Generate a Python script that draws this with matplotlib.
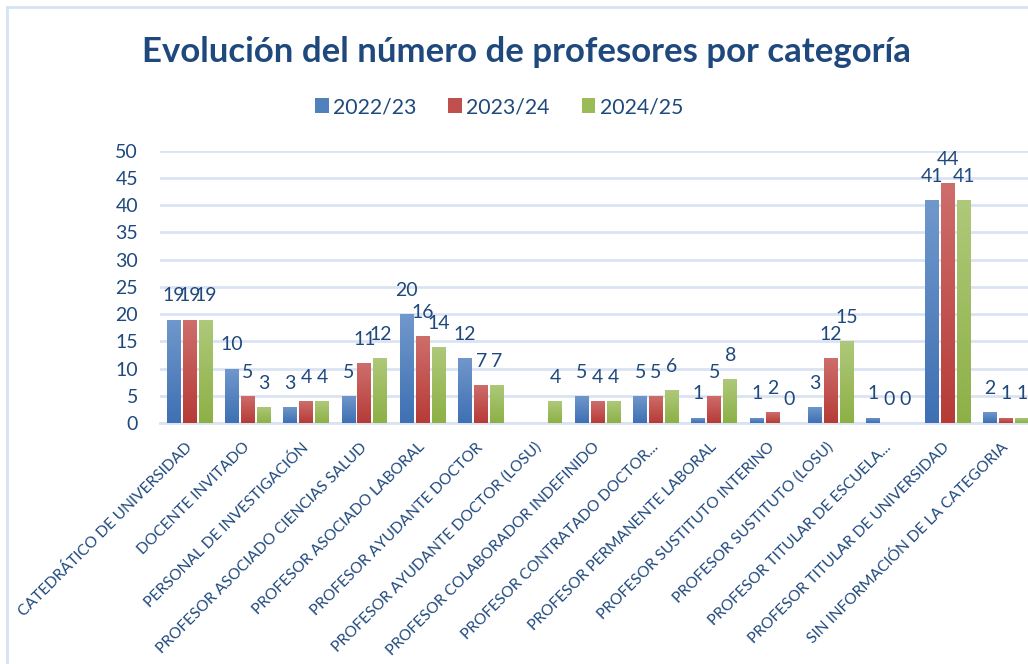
import numpy as np
import matplotlib
matplotlib.use("Agg")
import matplotlib.pyplot as plt
from matplotlib.colors import LinearSegmentedColormap
from matplotlib.lines import Line2D

# datos
categorias = [
    "CATEDRÁTICO DE UNIVERSIDAD",
    "DOCENTE INVITADO",
    "PERSONAL DE INVESTIGACIÓN",
    "PROFESOR ASOCIADO CIENCIAS SALUD",
    "PROFESOR ASOCIADO LABORAL",
    "PROFESOR AYUDANTE DOCTOR",
    "PROFESOR AYUDANTE DOCTOR (LOSU)",
    "PROFESOR COLABORADOR INDEFINIDO",
    "PROFESOR CONTRATADO DOCTOR...",
    "PROFESOR PERMANENTE LABORAL",
    "PROFESOR SUSTITUTO INTERINO",
    "PROFESOR SUSTITUTO (LOSU)",
    "PROFESOR TITULAR DE ESCUELA...",
    "PROFESOR TITULAR DE UNIVERSIDAD",
    "SIN INFORMACIÓN DE LA CATEGORIA",
]
cursos = ["2022/23", "2023/24", "2024/25"]
v_2022 = [19, 10, 3, 5, 20, 12, None, 5, 5, 1, 1, 3, 1, 41, 2]
v_2023 = [19, 5, 4, 11, 16, 7, None, 4, 5, 5, 2, 12, 0, 44, 1]
v_2024 = [19, 3, 4, 12, 14, 7, 4, 4, 6, 8, 0, 15, 0, 41, 1]

texto = "#1F497D"
rejilla = "#D9E3F1"
colores = ["#4F81BD", "#C0504D", "#9BBB59"]
degradados = [("#7198CC", "#3E70B3"), ("#CE6E6C", "#B63B37"), ("#AEC97A", "#8DB046")]

plt.rcParams["font.family"] = ["Lato", "DejaVu Sans"]

fig = plt.figure(figsize=(10.28, 6.64), dpi=100)
ax = fig.add_axes([0.156, 0.363, 0.851, 0.410])

x = np.arange(len(categorias))
ancho = 0.24
paso = 0.274
grad = np.linspace(0, 1, 256).reshape(-1, 1)

for i, (serie, nombre) in enumerate(zip([v_2022, v_2023, v_2024], cursos)):
    vals = np.array([np.nan if v is None else v for v in serie], dtype=float)
    barras = ax.bar(x + (i - 1) * paso, np.nan_to_num(vals), ancho, color=colores[i],
                    label=nombre, zorder=2, linewidth=0)
    cmap = LinearSegmentedColormap.from_list("g%d" % i, degradados[i])
    for b, v in zip(barras, vals):
        if np.isnan(v):
            continue
        bx, by = b.get_xy()
        if v > 0:
            im = ax.imshow(grad, extent=[bx, bx + b.get_width(), by, by + v], origin="upper",
                           cmap=cmap, aspect="auto", zorder=3, interpolation="bilinear")
            im.set_clip_path(b)
        ax.annotate("%d" % v, (bx + b.get_width() / 2, v), xytext=(0, 13),
                    textcoords="offset points", ha="center", va="baseline",
                    fontsize=14, color=texto, zorder=4)

ax.set_xlim(-0.5, len(categorias) - 0.5)
ax.set_ylim(0, 50)
ax.set_yticks(range(0, 51, 5))
ax.grid(axis="y", color=rejilla, linewidth=2, zorder=0)
ax.set_axisbelow(True)
for s in ["top", "right", "left"]:
    ax.spines[s].set_visible(False)
ax.spines["bottom"].set_color(rejilla)
ax.spines["bottom"].set_linewidth(2)
ax.tick_params(axis="y", length=0, pad=16, labelsize=14, labelcolor=texto)
ax.tick_params(axis="x", length=0, pad=16)
ax.set_xticks(x)
ax.set_xticklabels(categorias, rotation=45, ha="right", va="center",
                   rotation_mode="anchor", fontsize=11.2, color=texto)

fig.text(526 / 1028, 1 - 52 / 664, "Evolución del número de profesores por categoría",
         ha="center", va="center", fontsize=25, fontweight="bold", color=texto)

ax.legend(loc="center", bbox_to_anchor=(499 / 1028, 1 - 107 / 664),
          bbox_transform=fig.transFigure, ncol=3, frameon=False, fontsize=15.3,
          labelcolor=texto, handlelength=0.65, handleheight=0.65, handletextpad=0.2,
          columnspacing=1.5)

# marco del gráfico
fig.add_artist(Line2D([7 / 1028, 7 / 1028], [0, 1 - 7 / 664], transform=fig.transFigure,
                      color="#D6E3F3", linewidth=2))
fig.add_artist(Line2D([7 / 1028, 1], [1 - 7 / 664, 1 - 7 / 664], transform=fig.transFigure,
                      color="#D6E3F3", linewidth=2))

fig.savefig("out.png", dpi=100, facecolor="white")
